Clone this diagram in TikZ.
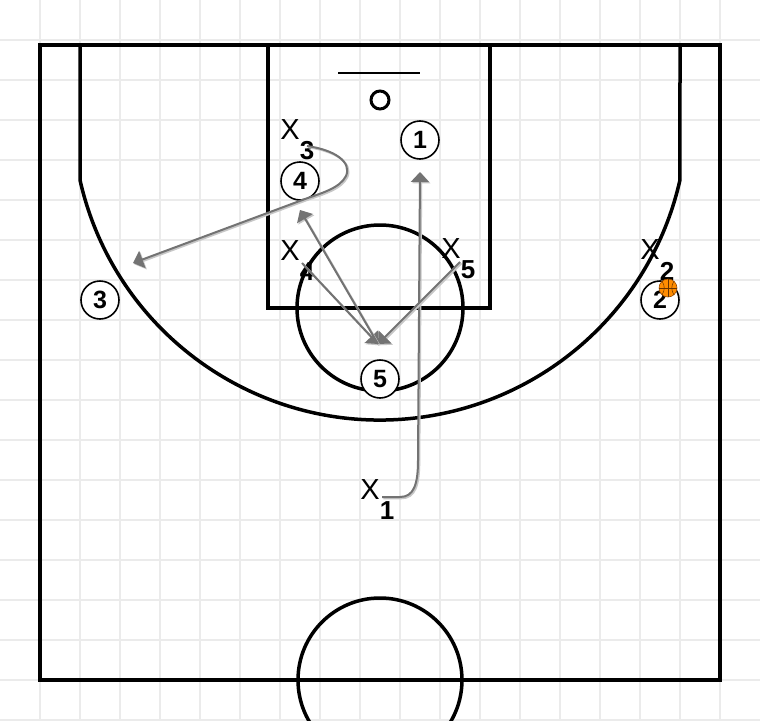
\documentclass[tikz,border=0pt]{standalone}
\usepackage{fontspec}
\setmainfont{Liberation Sans}
\usetikzlibrary{arrows.meta}

\tikzset{
  court/.style={line width=3.5pt, black},
  gridline/.style={line width=1.2pt, black!8},
  offense/.style={circle, draw, line width=1.6pt, fill=white, minimum size=38pt, inner sep=0pt,
    font=\fontsize{25}{25}\selectfont\bfseries},
  defense/.style={inner sep=0pt, font=\fontsize{29}{29}\selectfont},
  defnum/.style={inner sep=0pt, font=\fontsize{26}{26}\selectfont\bfseries},
  move/.style={draw=black!55, line width=2pt, -{Triangle[length=10pt,width=18pt]},
    preaction={draw=black!22, line width=2pt, transform canvas={xshift=1.3pt,yshift=-1.3pt}}},
}

% defender: name, position, number
\newcommand{\defender}[3]{
  \node[defense] (#1) at (#2) {X};
  \node[defnum] (#1num) at ([xshift=17pt,yshift=-21pt]#1.center) {#3};
}

\begin{document}
\begin{tikzpicture}[x=1pt, y=-1pt]
  \useasboundingbox (0,0) rectangle (760,720);
  \clip (0,0) rectangle (760,720);
  \fill[white] (0,0) rectangle (760,720);
  \foreach \i in {40,80,...,720} {
    \draw[gridline] (\i,0) -- (\i,720);
    \draw[gridline] (0,\i) -- (760,\i);
  }

  % half court
  \draw[court] (40,45) rectangle (720,680);
  \draw[court] (268,45) rectangle (490,308);
  \draw[court] (80,45) -- (80,180)
    arc[start angle=167.32, end angle=12.68, radius=307.5] -- (680,45);
  \draw[court] (380,308) circle[radius=83];
  \draw[court] (380,680) circle[radius=82];
  \draw[line width=2pt] (338,73) -- (420,73);
  \draw[line width=3pt] (380,100) circle[radius=9];

  % players
  \node[offense] (p1) at (420,140) {1};
  \node[offense] (p2) at (660,300) {2};
  \node[offense] (p3) at (100,300) {3};
  \node[offense] (p4) at (300,181) {4};
  \node[offense] (p5) at (380,379) {5};

  \defender{x1}{370,490}{1}
  \defender{x2}{650,250}{2}
  \defender{x3}{290,130}{3}
  \defender{x4}{290,251}{4}
  \defender{x5}{451,249}{5}

  % movements
  \coordinate (apex) at (378,344);
  \coordinate (cut1) at (420,172);
  \coordinate (cut4) at (300,210);
  \coordinate (cut3) at (133,263);
  \draw[move] ([xshift=12pt,yshift=-7pt]x1.center) -- (400,497)
    .. controls (414,497) and (418,484) .. (418,460) -- (cut1);
  \draw[move] ([xshift=17pt,yshift=-16pt]x3.center)
    .. controls (335,150) and (352,162) .. (346,176)
    .. controls (340,188) and (322,193) .. (305,199) -- (cut3);
  \draw[move] ([xshift=12pt,yshift=-12pt]x4.center) -- (apex);
  \draw[move] ([xshift=9pt,yshift=-13pt]x5.center) -- (apex);
  \draw[move] (apex) -- (cut4);

  % ball
  \fill[orange!90!yellow, draw=orange!60!black, line width=0.6pt] (668,288) circle[radius=9];
  \draw[orange!40!black, line width=0.5pt] (659,288) -- (677,288) (668,279) -- (668,297);
  \draw[orange!40!black, line width=0.5pt] (662,281) .. controls (665,286) and (665,290) .. (662,295);
  \draw[orange!40!black, line width=0.5pt] (674,281) .. controls (671,286) and (671,290) .. (674,295);
\end{tikzpicture}
\end{document}
